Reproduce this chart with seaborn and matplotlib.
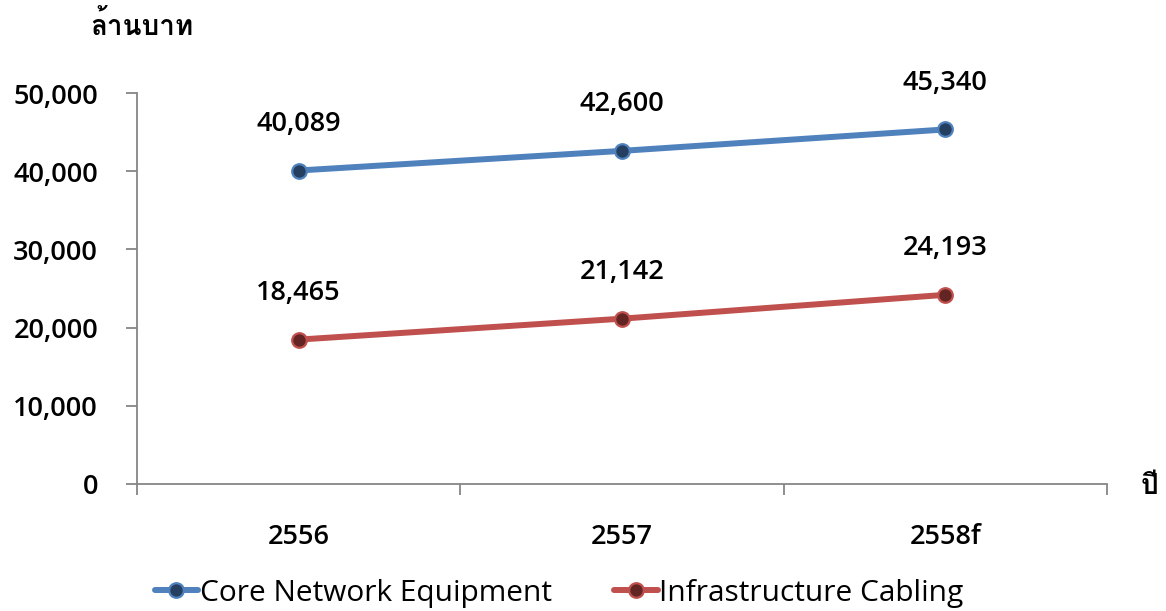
import matplotlib
matplotlib.use("Agg")
import matplotlib.pyplot as plt
from matplotlib import font_manager
from matplotlib.lines import Line2D
import seaborn as sns
import pandas as pd

# Market value by year (million baht)
years = ["2556", "2557", "2558f"]
core_network = [40089, 42600, 45340]
infra_cabling = [18465, 21142, 24193]
series_names = ["Core Network Equipment", "Infrastructure Cabling"]
y_ticks = [0, 10000, 20000, 30000, 40000, 50000]
y_title = "ล้านบาท"
x_title = "ปี"


def thai_capable_fonts():
    """Families whose cmap covers the Thai block."""
    from fontTools.ttLib import TTFont
    found = []
    for f in font_manager.fontManager.ttflist:
        try:
            tt = TTFont(f.fname, fontNumber=0, lazy=True)
            cmap = tt.getBestCmap() or {}
            if 0x0E25 in cmap and 0x0E1B in cmap:
                if f.name not in found:
                    found.append(f.name)
        except Exception:
            pass
    return found


sns.set_theme(style="ticks")
thai = thai_capable_fonts()
base_font = "Open Sans"
plt.rcParams["font.family"] = [base_font, "DejaVu Sans"] + thai
plt.rcParams["text.color"] = "black"
plt.rcParams["xtick.color"] = "black"
plt.rcParams["ytick.color"] = "black"

df = pd.DataFrame({
    "year": years * 2,
    "value": core_network + infra_cabling,
    "series": [series_names[0]] * 3 + [series_names[1]] * 3,
})
df["x"] = [0, 1, 2, 0, 1, 2]

line_colors = ["#4F81BD", "#C0504D"]
marker_fill = ["#243F60", "#632523"]
axis_grey = "#868686"
fs = 19.5
wt = "semibold"
lw = 4.3
ms = 10.5
mew = 1.6

fig = plt.figure(figsize=(11.66, 6.11), dpi=100)
ax = fig.add_axes([137 / 1166, 1 - 484 / 611, (1107 - 137) / 1166, (484 - 93) / 611])

sns.lineplot(data=df, x="x", y="value", hue="series", palette=line_colors,
             linewidth=lw, legend=False, ax=ax, sort=False)
for i, name in enumerate(series_names):
    sub = df[df["series"] == name]
    ax.plot(sub["x"], sub["value"], linestyle="none", marker="o", markersize=ms,
            markerfacecolor=marker_fill[i], markeredgecolor=line_colors[i],
            markeredgewidth=mew, zorder=5)
    for xv, yv in zip(sub["x"], sub["value"]):
        ax.annotate(f"{yv:,}", (xv, yv), xytext=(0, 23.5), textcoords="offset points",
                    ha="center", va="bottom", fontsize=fs, fontweight=wt, color="black")

ax.set_xlim(-0.5, 2.5)
ax.set_ylim(0, 50000)
ax.set_yticks(y_ticks)
ax.set_yticklabels([f"{v:,}" for v in y_ticks], fontsize=fs, fontweight=wt)
ax.set_xticks([-0.5, 0.5, 1.5, 2.5])
ax.set_xticklabels([])
ax.set_xticks([0, 1, 2], minor=True)
ax.set_xticklabels(years, minor=True, fontsize=fs, fontweight=wt)
ax.tick_params(axis="x", which="minor", bottom=True, length=0, pad=28)
ax.tick_params(axis="x", which="major", bottom=True, direction="out", length=8,
               width=1.3, color=axis_grey)
ax.tick_params(axis="y", left=True, direction="out", length=8, width=1.3,
               color=axis_grey, pad=20)
ax.set_xlabel("")
ax.set_ylabel("")

for s in ["top", "right"]:
    ax.spines[s].set_visible(False)
for s in ["left", "bottom"]:
    ax.spines[s].set_color(axis_grey)
    ax.spines[s].set_linewidth(1.3)

fig.text(90 / 1166, 1 - 27 / 611, y_title, fontsize=20, fontweight="bold",
         ha="left", va="center")
fig.text(1150 / 1166, 1 - 486 / 611, x_title, fontsize=20, fontweight="bold",
         ha="center", va="center")

handles = [Line2D([0], [0], color=line_colors[i], linewidth=lw, marker="o",
                  markersize=ms, markerfacecolor=marker_fill[i],
                  markeredgecolor=line_colors[i], markeredgewidth=mew)
           for i in range(2)]
fig.legend(handles, series_names, loc="center", bbox_to_anchor=(0.4795, 1 - 593 / 611),
           ncol=2, frameon=False, handlelength=1.45, handletextpad=0.05,
           columnspacing=2.1, prop={"size": 21.5})

fig.savefig("out.png", dpi=100)
